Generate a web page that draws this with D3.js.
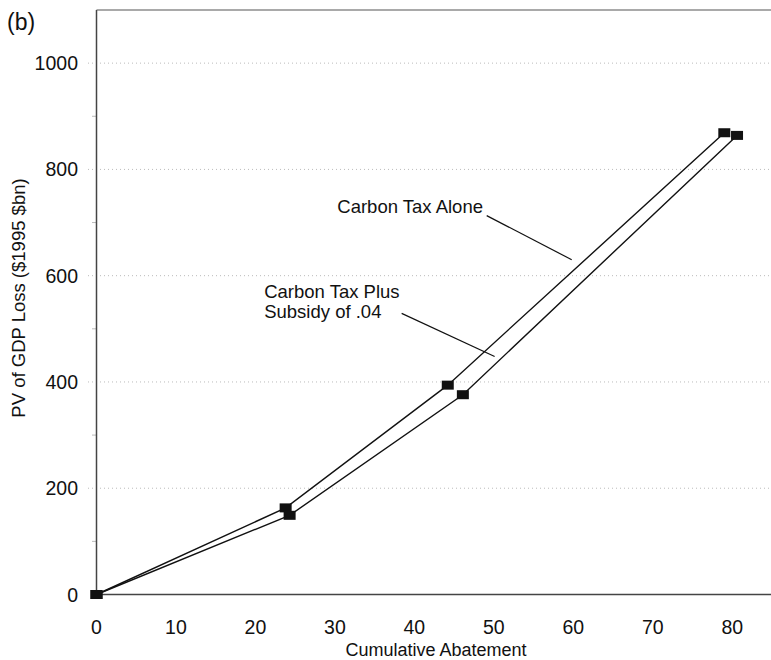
<!DOCTYPE html>
<html>
<head>
<meta charset="utf-8">
<title>PV of GDP Loss vs Cumulative Abatement</title>
<script src="https://d3js.org/d3.v7.min.js"></script>
<style>
  body {margin:0; background:#fff;}
  text {font-family:'Liberation Sans', Arial, sans-serif; fill:#111;}
</style>
</head>
<body>
<svg id="chart" width="771" height="660"></svg>
<script>
// values
var taxAloneX = [0, 23.8, 44.2, 79.0],
    taxAloneY = [0, 163, 394, 869];
var subsidyX = [0, 24.3, 46.1, 80.6],
    subsidyY = [0, 149, 376, 864];
var xTicks = [0, 10, 20, 30, 40, 50, 60, 70, 80],
    yTicks = [0, 200, 400, 600, 800, 1000],
    yMinor = [100, 300, 500, 700, 900];
var notes = [
  {lines: ['Carbon Tax Alone'], at: [30.3, 718], from: [49.1, 713], to: [59.8, 630]},
  {lines: ['Carbon Tax Plus', 'Subsidy of .04'], at: [21.1, 558], from: [38.4, 529], to: [50.1, 448]}
];

var svg = d3.select('#chart');
var x = d3.scaleLinear().domain([0, 85]).range([96.5, 772]),
    y = d3.scaleLinear().domain([0, 1100]).range([594.5, 10]);

// dotted gridlines with outer tick stubs
svg.append('g').selectAll('line').data(yTicks.filter(function(d){return d>0;}))
  .enter().append('line')
  .attr('x1', 88).attr('x2', 771)
  .attr('y1', function(d){return y(d);}).attr('y2', function(d){return y(d);})
  .attr('stroke', '#bbb').attr('stroke-width', 1).attr('stroke-dasharray', '1,3');
svg.append('g').selectAll('line').data(yMinor).enter().append('line')
  .attr('x1', 92).attr('x2', 96)
  .attr('y1', function(d){return y(d);}).attr('y2', function(d){return y(d);})
  .attr('stroke', '#bbb');

// frame: left, bottom, top
svg.append('line').attr('x1', x(0)).attr('x2', x(0)).attr('y1', y(1100)).attr('y2', y(0))
  .attr('stroke', '#444').attr('stroke-width', 1.5);
svg.append('line').attr('x1', x(0)).attr('x2', 771).attr('y1', y(0)).attr('y2', y(0))
  .attr('stroke', '#444').attr('stroke-width', 1.5);
svg.append('line').attr('x1', x(0)).attr('x2', 771).attr('y1', y(1100)).attr('y2', y(1100))
  .attr('stroke', '#555').attr('stroke-width', 1.2);

// tick labels
svg.append('g').selectAll('text').data(xTicks).enter().append('text')
  .attr('x', function(d){return x(d);}).attr('y', 634)
  .attr('text-anchor', 'middle').attr('font-size', 19.5)
  .text(function(d){return d;});
svg.append('g').selectAll('text').data(yTicks).enter().append('text')
  .attr('x', 78).attr('y', function(d){return y(d) + 7;})
  .attr('text-anchor', 'end').attr('font-size', 19.5)
  .text(function(d){return d;});

// axis titles
svg.append('text').attr('x', 436).attr('y', 656).attr('text-anchor', 'middle')
  .attr('font-size', 18).text('Cumulative Abatement');
svg.append('text').attr('transform', 'translate(25,298) rotate(-90)')
  .attr('text-anchor', 'middle').attr('font-size', 18.5)
  .text('PV of GDP Loss ($1995 $bn)');
svg.append('text').attr('x', 7).attr('y', 30).attr('font-size', 23).text('(b)');

// series
var line = d3.line().x(function(d){return x(d[0]);}).y(function(d){return y(d[1]);});
[[taxAloneX, taxAloneY], [subsidyX, subsidyY]].forEach(function(s){
  var pts = s[0].map(function(v, i){return [v, s[1][i]];});
  svg.append('path').datum(pts).attr('d', line)
    .attr('fill', 'none').attr('stroke', '#111').attr('stroke-width', 1.4);
  svg.append('g').selectAll('rect').data(pts).enter().append('rect')
    .attr('x', function(d){return x(d[0]) - 6;}).attr('y', function(d){return y(d[1]) - 4.5;})
    .attr('width', 12).attr('height', 9).attr('fill', '#111');
});

// annotations
notes.forEach(function(n){
  var t = svg.append('text').attr('x', x(n.at[0])).attr('y', y(n.at[1])).attr('font-size', 18.5);
  n.lines.forEach(function(l, i){
    t.append('tspan').attr('x', x(n.at[0])).attr('dy', i ? 20 : 0).text(l);
  });
  svg.append('line').attr('x1', x(n.from[0])).attr('y1', y(n.from[1]))
    .attr('x2', x(n.to[0])).attr('y2', y(n.to[1]))
    .attr('stroke', '#111').attr('stroke-width', 1.2);
});
</script>
</body>
</html>
